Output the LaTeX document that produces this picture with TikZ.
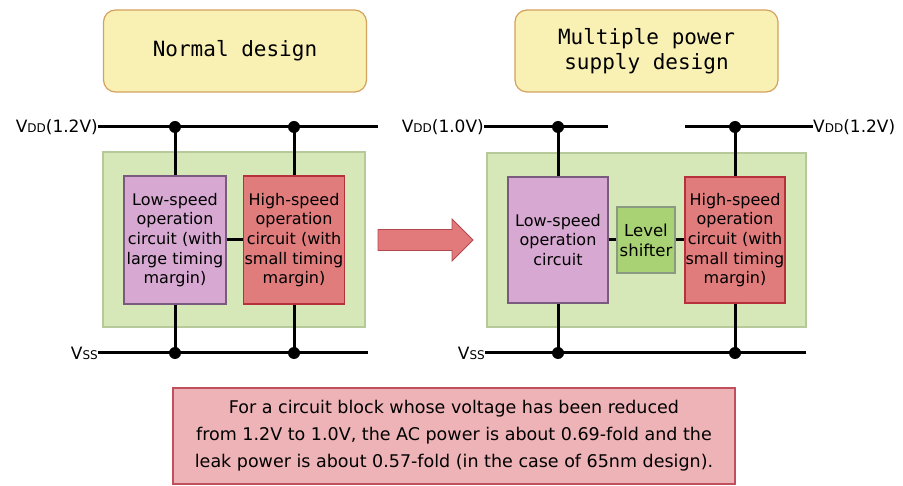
\documentclass[tikz,border=0pt]{standalone}
\usepackage{fontspec}
\setmainfont{DejaVu Sans}
\newfontfamily\titlefont{DejaVu Sans Mono}

\definecolor{titlefill}{HTML}{F9F1B4}
\definecolor{titledraw}{HTML}{D4A15E}
\definecolor{greenfill}{HTML}{D6E7B8}
\definecolor{greendraw}{HTML}{B5C99A}
\definecolor{lowfill}{HTML}{D7A9D2}
\definecolor{lowdraw}{HTML}{7A5A7E}
\definecolor{highfill}{HTML}{E07C7C}
\definecolor{highdraw}{HTML}{B8303C}
\definecolor{lsfill}{HTML}{A8D273}
\definecolor{lsdraw}{HTML}{8A9A80}
\definecolor{notefill}{HTML}{EEB3B7}
\definecolor{notedraw}{HTML}{C0505E}
\definecolor{arrowfill}{HTML}{E27A7C}
\definecolor{arrowdraw}{HTML}{B04A50}

\tikzset{
  titlebox/.style={draw=titledraw, fill=titlefill, rounded corners=12pt, line width=1.2pt,
    minimum width=263pt, minimum height=82pt, inner sep=0pt, align=center,
    font=\titlefont\fontsize{21}{25}\selectfont},
  greenbox/.style={draw=greendraw, fill=greenfill, line width=1.2pt, inner sep=0pt},
  circbox/.style={line width=1.2pt, inner sep=0pt, align=center,
    font=\fontsize{16}{19.7}\selectfont},
  lowbox/.style={circbox, draw=lowdraw, fill=lowfill},
  highbox/.style={circbox, draw=highdraw, fill=highfill},
  lsbox/.style={circbox, draw=lsdraw, fill=lsfill, minimum width=58pt, minimum height=66pt,
    font=\fontsize{16.5}{20}\selectfont},
  wire/.style={line width=3pt, black},
  dot/.style={circle, fill=black, inner sep=0pt, minimum size=12pt},
  lbl/.style={inner sep=0pt, font=\fontsize{17}{20}\selectfont},
  notebox/.style={draw=notedraw, fill=notefill, line width=1.2pt, inner sep=0pt,
    minimum width=562pt, minimum height=96pt, align=center,
    font=\fontsize{17.5}{27}\selectfont},
  bigarrow/.style={draw=arrowdraw, fill=arrowfill, line width=0.8pt},
}
\newcommand{\myvdd}{V{\fontsize{12}{12}\selectfont DD}}
\newcommand{\myvss}{V{\fontsize{12}{12}\selectfont SS}}

\begin{document}
\begin{tikzpicture}[x=1pt,y=-1pt]
\useasboundingbox (0,0) rectangle (903,486);

% titles
\node[titlebox] (t1) at (235,51) {Normal design};
\node[titlebox] (t2) at (646.5,51) {Multiple power\\supply design};

% ---------- left: normal design
\node[greenbox, minimum width=262pt, minimum height=175pt] (gL) at (234,239.5) {};
\node[lowbox, minimum width=102pt, minimum height=128pt] (lowL) at (175,240)
  {Low-speed\\operation\\circuit (with\\large timing\\margin)};
\node[highbox, minimum width=101pt, minimum height=128pt] (highL) at (294,240)
  {High-speed\\operation\\circuit (with\\small timing\\margin)};

\node[lbl, anchor=east] (vddL) at (98,127) {\myvdd(1.2V)};
\coordinate (vddLend) at (378,127);
\node[dot] (dL1) at (175,127) {};
\node[dot] (dL2) at (294,127) {};
\draw[wire] (vddL.east) -- (vddLend);

\node[lbl, anchor=east] (vssL) at (98,353) {\myvss};
\coordinate (vssLend) at (368,353);
\node[dot] (sL1) at (175,353) {};
\node[dot] (sL2) at (294,353) {};
\draw[wire] (vssL.east) -- (vssLend);

\draw[wire] (dL1.center) -- (lowL.north);
\draw[wire] (dL2.center) -- (highL.north);
\draw[wire] (lowL.south) -- (sL1.center);
\draw[wire] (highL.south) -- (sL2.center);
\draw[wire] (lowL.east) -- (highL.west);

% arrow
\draw[bigarrow] (378,229.5) -- (452,229.5) -- (452,219) -- (473,240)
  -- (452,261) -- (452,250.5) -- (378,250.5) -- cycle;

% ---------- right: multiple power supply
\node[greenbox, minimum width=319pt, minimum height=174pt] (gR) at (646.5,240) {};
\node[lowbox, minimum width=100pt, minimum height=126pt] (lowR) at (558,240)
  {Low-speed\\operation\\circuit};
\node[lsbox] (ls) at (646,240) {Level\\shifter};
\node[highbox, minimum width=100pt, minimum height=126pt] (highR) at (735,240)
  {High-speed\\operation\\circuit (with\\small timing\\margin)};

\node[lbl, anchor=east] (vddR1) at (484,127) {\myvdd(1.0V)};
\coordinate (vddR1end) at (608,127);
\node[dot] (dR1) at (558,127) {};
\draw[wire] (vddR1.east) -- (vddR1end);

\coordinate (vddR2start) at (685,127);
\node[lbl, anchor=west] (vddR2) at (813,127) {\myvdd(1.2V)};
\node[dot] (dR2) at (735,127) {};
\draw[wire] (vddR2start) -- (vddR2.west);

\node[lbl, anchor=east] (vssR) at (485,353) {\myvss};
\coordinate (vssRend) at (806,353);
\node[dot] (sR1) at (558,353) {};
\node[dot] (sR2) at (735,353) {};
\draw[wire] (vssR.east) -- (vssRend);

\draw[wire] (dR1.center) -- (lowR.north);
\draw[wire] (dR2.center) -- (highR.north);
\draw[wire] (lowR.south) -- (sR1.center);
\draw[wire] (highR.south) -- (sR2.center);
\draw[wire] (lowR.east) -- (ls.west);
\draw[wire] (ls.east) -- (highR.west);

% note
\node[notebox] (note) at (454,436)
  {For a circuit block whose voltage has been reduced\\
   from 1.2V to 1.0V, the AC power is about 0.69-fold and the\\
   leak power is about 0.57-fold (in the case of 65nm design).};
\end{tikzpicture}
\end{document}
